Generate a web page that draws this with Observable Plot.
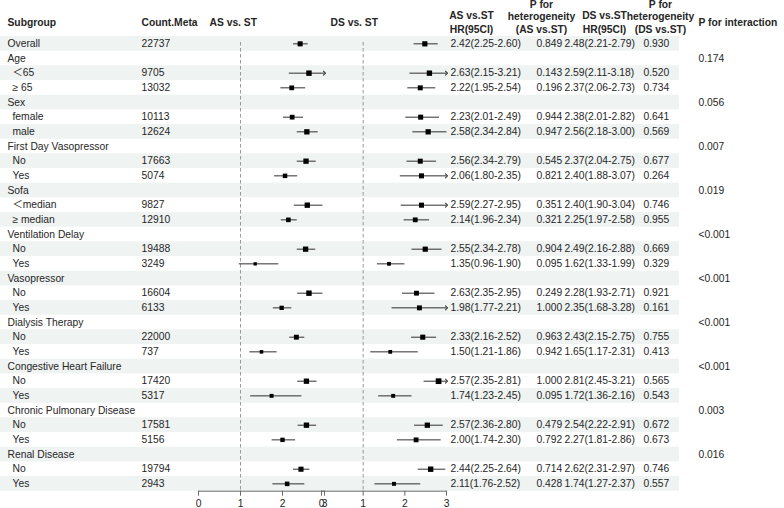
<!DOCTYPE html>
<html><head><meta charset="utf-8">
<script src="https://cdn.jsdelivr.net/npm/d3@7"></script>
<script src="https://cdn.jsdelivr.net/npm/@observablehq/plot@0.6"></script>
<style>
body{margin:0;background:#fff;}
#chart{position:relative;width:784px;height:508px;overflow:hidden;background:#fff;}
#chart svg{position:absolute;top:0;}
</style></head><body><div id="chart"></div>
<script>
// ---------------- data ----------------
const subgroups = ["Overall","Age","＜65","≥ 65","Sex","female","male","First Day Vasopressor","No","Yes","Sofa","＜median","≥ median","Ventilation Delay","No","Yes","Vasopressor","No","Yes","Dialysis Therapy","No","Yes","Congestive Heart Failure","No","Yes","Chronic Pulmonary Disease","No","Yes","Renal Disease","No","Yes"];
const isSubItem = [false,false,true,true,false,true,true,false,true,true,false,true,true,false,true,true,false,true,true,false,true,true,false,true,true,false,true,true,false,true,true];
const counts = [22737,null,9705,13032,null,10113,12624,null,17663,5074,null,9827,12910,null,19488,3249,null,16604,6133,null,22000,737,null,17420,5317,null,17581,5156,null,19794,2943];
const asEst  = [2.42,null,2.63,2.22,null,2.23,2.58,null,2.56,2.06,null,2.59,2.14,null,2.55,1.35,null,2.63,1.98,null,2.33,1.50,null,2.57,1.74,null,2.57,2.00,null,2.44,2.11];
const asLow  = [2.25,null,2.15,1.95,null,2.01,2.34,null,2.34,1.80,null,2.27,1.96,null,2.34,0.96,null,2.35,1.77,null,2.16,1.21,null,2.35,1.23,null,2.36,1.74,null,2.25,1.76];
const asHigh = [2.60,null,3.21,2.54,null,2.49,2.84,null,2.79,2.35,null,2.95,2.34,null,2.78,1.90,null,2.95,2.21,null,2.52,1.86,null,2.81,2.45,null,2.80,2.30,null,2.64,2.52];
const asPhet = ["0.849","","0.143","0.196","","0.944","0.947","","0.545","0.821","","0.351","0.321","","0.904","0.095","","0.249","1.000","","0.963","0.942","","1.000","0.095","","0.479","0.792","","0.714","0.428"];
const dsEst  = [2.48,null,2.59,2.37,null,2.38,2.56,null,2.37,2.40,null,2.40,2.25,null,2.49,1.62,null,2.28,2.35,null,2.43,1.65,null,2.81,1.72,null,2.54,2.27,null,2.62,1.74];
const dsLow  = [2.21,null,2.11,2.06,null,2.01,2.18,null,2.04,1.88,null,1.90,1.97,null,2.16,1.33,null,1.93,1.68,null,2.15,1.17,null,2.45,1.36,null,2.22,1.81,null,2.31,1.27];
const dsHigh = [2.79,null,3.18,2.73,null,2.82,3.00,null,2.75,3.07,null,3.04,2.58,null,2.88,1.99,null,2.71,3.28,null,2.75,2.31,null,3.21,2.16,null,2.91,2.86,null,2.97,2.37];
const dsPhet = ["0.930","","0.520","0.734","","0.641","0.569","","0.677","0.264","","0.746","0.955","","0.669","0.329","","0.921","0.161","","0.755","0.413","","0.565","0.543","","0.672","0.673","","0.746","0.557"];
const pInteraction = ["","0.174","","","0.056","","","0.007","","","0.019","","","<0.001","","","<0.001","","","<0.001","","","<0.001","","","0.003","","","0.016","",""];
const xTicks = [0,1,2,3];

// ---------------- table ----------------
const fmt = (e,l,h) => e == null ? "" : `${e.toFixed(2)}(${l.toFixed(2)}-${h.toFixed(2)})`;
const rows = subgroups.map((s,i) => ({
  i, s, sub: isSubItem[i], n: counts[i] == null ? "" : String(counts[i]),
  asTxt: fmt(asEst[i], asLow[i], asHigh[i]), asP: asPhet[i],
  dsTxt: fmt(dsEst[i], dsLow[i], dsHigh[i]), dsP: dsPhet[i], pInt: pInteraction[i]
}));
const yDomain = rows.map(d => d.i);

const font = "'Liberation Sans', Arial, Helvetica, 'Noto Sans CJK SC', sans-serif";
const FS = 10.3;
const ink = "#262626";
const H = 508, MT = 36, MB = 17.3;

const col = (field, dx, extra={}) => Plot.text(rows, {y: "i", text: field, frameAnchor: "left", textAnchor: "start", dx, fill: ink, ...extra});
const head = (label, dx, dy, anchor, extra={}) => Plot.text([label], {frameAnchor: "top-left", dx, dy, textAnchor: anchor, lineAnchor: "middle", fontWeight: "bold", fill: ink, ...extra});

const main = Plot.plot({
  width: 784, height: H, marginLeft: 0, marginRight: 105, marginTop: MT, marginBottom: MB,
  style: {fontFamily: font, fontSize: FS + "px", background: "white"},
  y: {type: "band", domain: yDomain, padding: 0, round: false, axis: null},
  marks: [
    Plot.cell(rows.filter(d => d.i % 2 === 0), {y: "i", fill: "#eff3f2"}),
    Plot.text(rows.filter(d => !d.sub), {y: "i", text: "s", frameAnchor: "left", textAnchor: "start", dx: 7, fill: ink}),
    Plot.text(rows.filter(d => d.sub), {y: "i", text: "s", frameAnchor: "left", textAnchor: "start", dx: 12, fill: ink}),
    col("n", 141),
    col("asTxt", 450),
    col("asP", 536),
    col("dsTxt", 564),
    col("dsP", 643),
    col("pInt", 698),
    head("Subgroup", 7, -14, "start"),
    head("Count.Meta", 141, -14, "start"),
    head("AS vs. ST", 209, -14, "start"),
    head("DS vs. ST", 330, -14, "start"),
    head("AS vs.ST\nHR(95CI)", 471, -15, "middle", {lineHeight: 1.36}),
    head("P for\nheterogeneity\n(AS vs.ST)", 541, -20, "middle", {lineHeight: 1.18}),
    head("DS vs.ST\nHR(95CI)", 604, -15, "middle", {lineHeight: 1.36}),
    head("P for\nheterogeneity\n(DS vs.ST)", 660, -20, "middle", {lineHeight: 1.18}),
    head("P for interaction", 698, -14, "start")
  ]
});
document.getElementById("chart").append(main);
main.style.left = "0px";

// ---------------- forest panels ----------------
const xMax = d3.max(xTicks);
function panel(est, low, high, left, width) {
  const pts = rows.filter(d => est[d.i] != null).map(d => ({i: d.i, est: est[d.i], lo: low[d.i], hi: high[d.i]}));
  const ciStyle = {x1: "lo", x2: d => Math.min(d.hi, xMax), y1: "i", y2: "i", stroke: "#303030", strokeWidth: 1};
  const p = Plot.plot({
    width, height: H, marginLeft: 8, marginRight: 8, marginTop: MT, marginBottom: MB,
    style: {fontFamily: font, fontSize: FS + "px", background: "transparent", overflow: "visible"},
    x: {domain: [0, xMax], axis: null},
    y: {type: "point", domain: yDomain, padding: 0.5, round: false, axis: null},
    r: {type: "linear", domain: [0, 3], range: [0.6, 3.4]},
    marks: [
      Plot.ruleX([1], {stroke: "#9a9a9a", strokeDasharray: "3.5,2.5", insetTop: 6}),
      Plot.frame({anchor: "bottom", stroke: "#6a6a6a"}),
      Plot.axisX(xTicks, {tickSize: 5, tickPadding: 3, stroke: "#6a6a6a", fill: ink, tickFormat: d => String(d)}),
      Plot.link(pts.filter(d => d.hi <= xMax), ciStyle),
      Plot.link(pts.filter(d => d.hi > xMax), {...ciStyle, markerEnd: "arrow"}),
      Plot.dot(pts, {x: "est", y: "i", r: "est", symbol: "square", fill: "#000", stroke: "none"})
    ]
  });
  p.style.left = left + "px";
  p.style.background = "transparent";
  document.getElementById("chart").append(p);
}
panel(asEst, asLow, asHigh, 190, 142);
panel(dsEst, dsLow, dsHigh, 313, 141);
</script></body></html>
